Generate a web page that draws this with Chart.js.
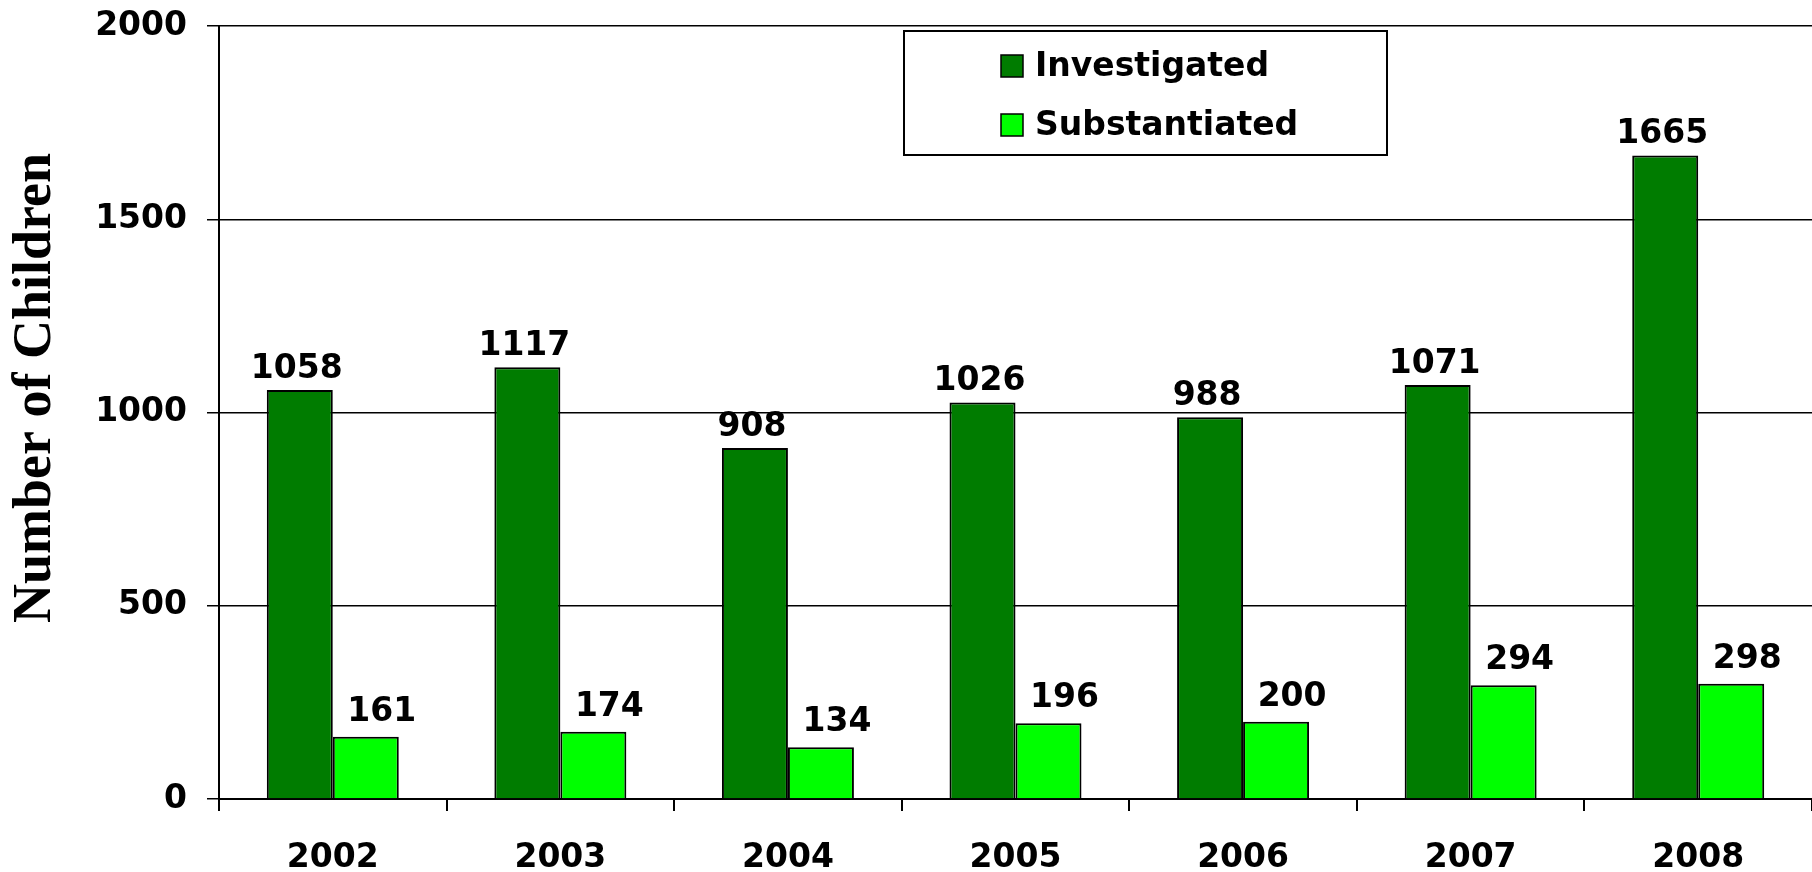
<!DOCTYPE html>
<html>
<head>
<meta charset="utf-8">
<script src="https://cdn.jsdelivr.net/npm/chart.js@4/dist/chart.umd.min.js"></script>
<style>
  html, body { margin: 0; padding: 0; background: #fff; }
  #wrap { width: 1812px; height: 872px; }
</style>
</head>
<body>
<div id="wrap"><canvas id="chartCanvas"></canvas></div>
<script>
const years = ['2002', '2003', '2004', '2005', '2006', '2007', '2008'];
const investigated = [1058, 1117, 908, 1026, 988, 1071, 1665];
const substantiated = [161, 174, 134, 196, 200, 294, 298];
const yTicks = [0, 500, 1000, 1500, 2000];

const labelFont = 'bold 33px "DejaVu Sans", Verdana, sans-serif';

// value labels above each bar
const valueLabels = {
  id: 'valueLabels',
  afterDatasetsDraw(chart) {
    const ctx = chart.ctx;
    ctx.save();
    ctx.font = labelFont;
    ctx.fillStyle = '#000';
    ctx.textAlign = 'center';
    ctx.textBaseline = 'alphabetic';
    chart.data.datasets.forEach((ds, i) => {
      const meta = chart.getDatasetMeta(i);
      meta.data.forEach((bar, j) => {
        ctx.fillText(String(ds.data[j]), bar.x + ds.labelDx, bar.y - ds.labelGap);
      });
    });
    ctx.restore();
  }
};

// boxed legend inside the plot plus the rotated axis title
const boxLegend = {
  id: 'boxLegend',
  afterDraw(chart) {
    const ctx = chart.ctx;
    const a = chart.chartArea;
    ctx.save();
    const bx = a.left + 685, by = a.top + 5, bw = 483, bh = 124;
    ctx.fillStyle = '#fff';
    ctx.fillRect(bx, by, bw, bh);
    ctx.strokeStyle = '#000';
    ctx.lineWidth = 2;
    ctx.strokeRect(bx, by, bw, bh);
    ctx.font = labelFont;
    ctx.textBaseline = 'middle';
    chart.data.datasets.forEach((ds, i) => {
      const cy = by + 35 + i * 59;
      ctx.fillStyle = ds.backgroundColor;
      ctx.fillRect(bx + 97, cy - 11, 22, 22);
      ctx.lineWidth = 1.5;
      ctx.strokeRect(bx + 97, cy - 11, 22, 22);
      ctx.fillStyle = '#000';
      ctx.textAlign = 'left';
      ctx.fillText(ds.label, bx + 131, cy + 1);
    });

    ctx.translate(36, 388);
    ctx.rotate(-Math.PI / 2);
    ctx.font = 'bold 54px "Liberation Serif", "Times New Roman", serif';
    ctx.textAlign = 'center';
    ctx.textBaseline = 'middle';
    ctx.fillText('Number of Children', 0, 0);
    ctx.restore();
  }
};

const ctx = document.getElementById('chartCanvas').getContext('2d');
const myChart = new Chart(ctx, {
  type: 'bar',
  data: {
    labels: years,
    datasets: [{
      label: 'Investigated',
      data: investigated,
      backgroundColor: '#007c00',
      borderColor: '#000',
      borderWidth: 2,
      labelDx: -3,
      labelGap: 12
    }, {
      label: 'Substantiated',
      data: substantiated,
      backgroundColor: '#00ff00',
      borderColor: '#000',
      borderWidth: 2,
      labelDx: 16,
      labelGap: 16
    }]
  },
  options: {
    responsive: true,
    maintainAspectRatio: false,
    animation: false,
    devicePixelRatio: 1,
    layout: { padding: { top: 26, right: 0, left: 0, bottom: 0 } },
    categoryPercentage: 0.58,
    barPercentage: 1,
    plugins: {
      legend: { display: false },
      tooltip: { enabled: false }
    },
    scales: {
      x: {
        grid: {
          drawOnChartArea: false,
          drawTicks: true,
          tickLength: 12,
          color: '#000',
          lineWidth: 2
        },
        border: { color: '#000', width: 2 },
        ticks: {
          color: '#000',
          padding: 28,
          maxRotation: 0,
          font: { family: '"DejaVu Sans", Verdana, sans-serif', size: 33, weight: 'bold' }
        },
        afterFit(scale) {
          scale.height = 73;
          scale.paddingLeft = 0;
          scale.paddingRight = 0;
        }
      },
      y: {
        min: 0,
        max: 2000,
        afterBuildTicks(scale) { scale.ticks = yTicks.map(v => ({ value: v })); },
        grid: {
          color: '#000',
          lineWidth: 1.5,
          tickLength: 12
        },
        border: { color: '#000', width: 2 },
        ticks: {
          color: '#000',
          padding: 20,
          callback: v => String(v),
          font: { family: '"DejaVu Sans", Verdana, sans-serif', size: 33, weight: 'bold' }
        },
        afterFit(scale) {
          scale.width = 219;
          scale.paddingTop = 0;
          scale.paddingBottom = 0;
        }
      }
    }
  },
  plugins: [valueLabels, boxLegend]
});
</script>
</body>
</html>
